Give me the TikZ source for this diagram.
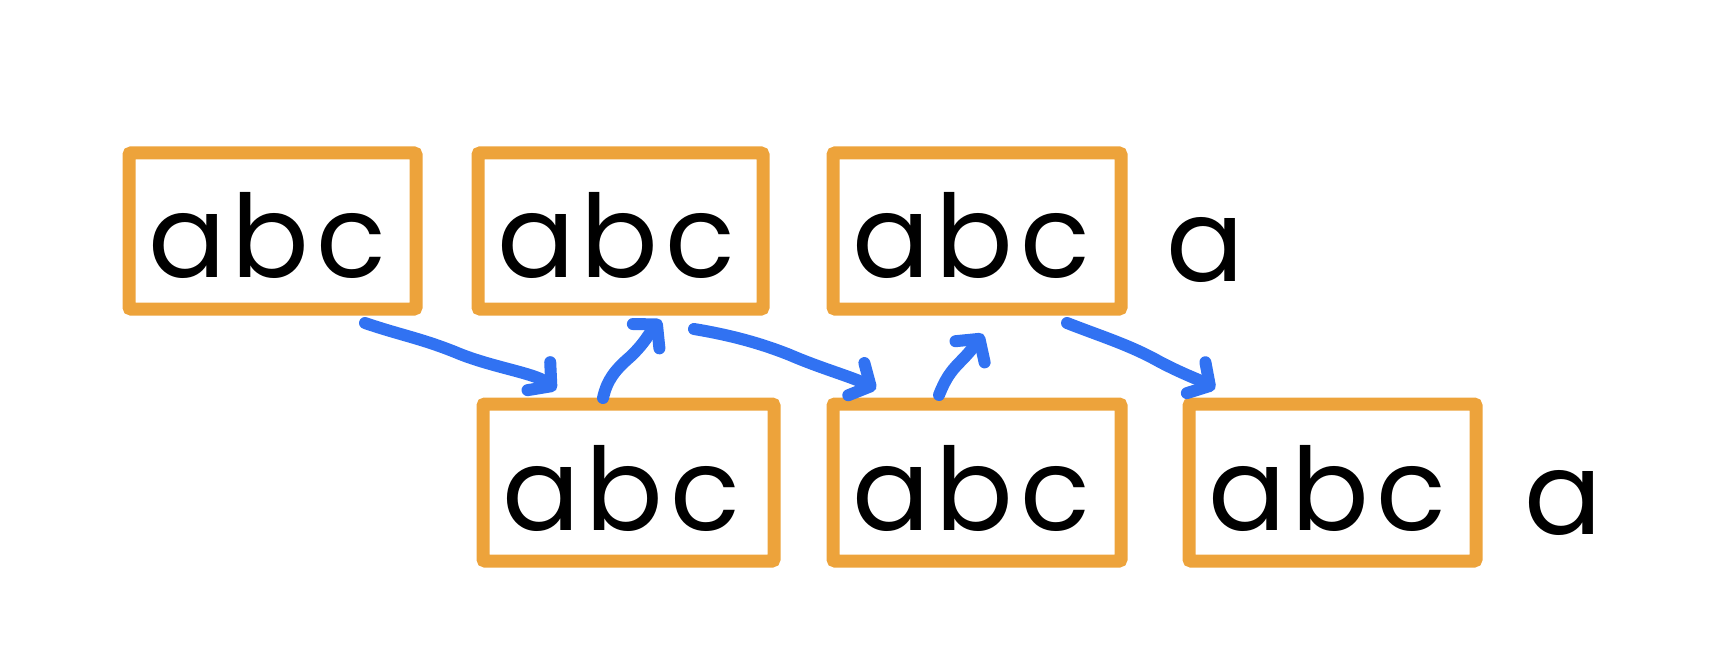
\documentclass[tikz,border=0pt]{standalone}
\usepackage{fontspec}
\setmainfont{Poppins}
\usetikzlibrary{arrows.meta}
\definecolor{boxorange}{HTML}{EDA33B}
\definecolor{arrowblue}{HTML}{3172F2}
\tikzset{
  abox/.style={draw=boxorange, line width=13pt, rounded corners=2pt},
  letter/.style={anchor=base, inner sep=0pt, font=\fontsize{115}{115}\selectfont},
  harrow/.style={draw=arrowblue, line width=12pt, line cap=round, line join=round,
    -{Straight Barb[length=16pt,width=36pt,line cap=round,round]}}
}
\newcommand\abcrow[3]{%
  \node[letter] (#1a) at (#2+58,#3) {a};
  \node[letter] (#1b) at (#2+141,#3) {b};
  \node[letter] (#1c) at (#2+222,#3) {c};
}
\begin{document}
\begin{tikzpicture}[x=1pt,y=-1pt]
\useasboundingbox (0,0) rectangle (1726,660);
% top boxes
\draw[abox] (129,153) rectangle (416,309);
\draw[abox] (478,153) rectangle (763,309);
\draw[abox] (833,153) rectangle (1121,309);
% bottom boxes
\draw[abox] (483,404) rectangle (774,561);
\draw[abox] (833,404) rectangle (1121,561);
\draw[abox] (1189,404) rectangle (1476,561);
% letters
\abcrow{t1}{129}{278}
\abcrow{t2}{478}{278}
\abcrow{t3}{833}{278}
\abcrow{u1}{483}{530}
\abcrow{u2}{833}{530}
\abcrow{u3}{1189}{530}
\node[letter] (ta) at (1205,281) {a};
\node[letter] (ua) at (1563,534) {a};
% arrows
\coordinate (p1s) at (365,323); \coordinate (p1e) at (556,390);
\coordinate (p2s) at (603,398); \coordinate (p2e) at (661,320);
\coordinate (p3s) at (694,329); \coordinate (p3e) at (876,389);
\coordinate (p4s) at (939,395); \coordinate (p4e) at (983,334);
\coordinate (p5s) at (1067,323); \coordinate (p5e) at (1215,389);
\draw[harrow] (p1s) .. controls (400,335) and (420,338) .. (455,352)
  .. controls (490,367) and (535,373) .. (p1e);
\draw[harrow] (p2s) .. controls (607,380) and (615,370) .. (630,357)
  .. controls (645,343) and (650,332) .. (p2e);
\draw[harrow] (p3s) .. controls (730,335) and (760,343) .. (790,355)
  .. controls (820,368) and (852,377) .. (p3e);
\draw[harrow] (p4s) .. controls (945,380) and (950,372) .. (960,362)
  .. controls (970,352) and (975,345) .. (p4e);
\draw[harrow] (p5s) .. controls (1100,336) and (1130,345) .. (1160,362)
  .. controls (1185,375) and (1200,380) .. (p5e);
\end{tikzpicture}
\end{document}
